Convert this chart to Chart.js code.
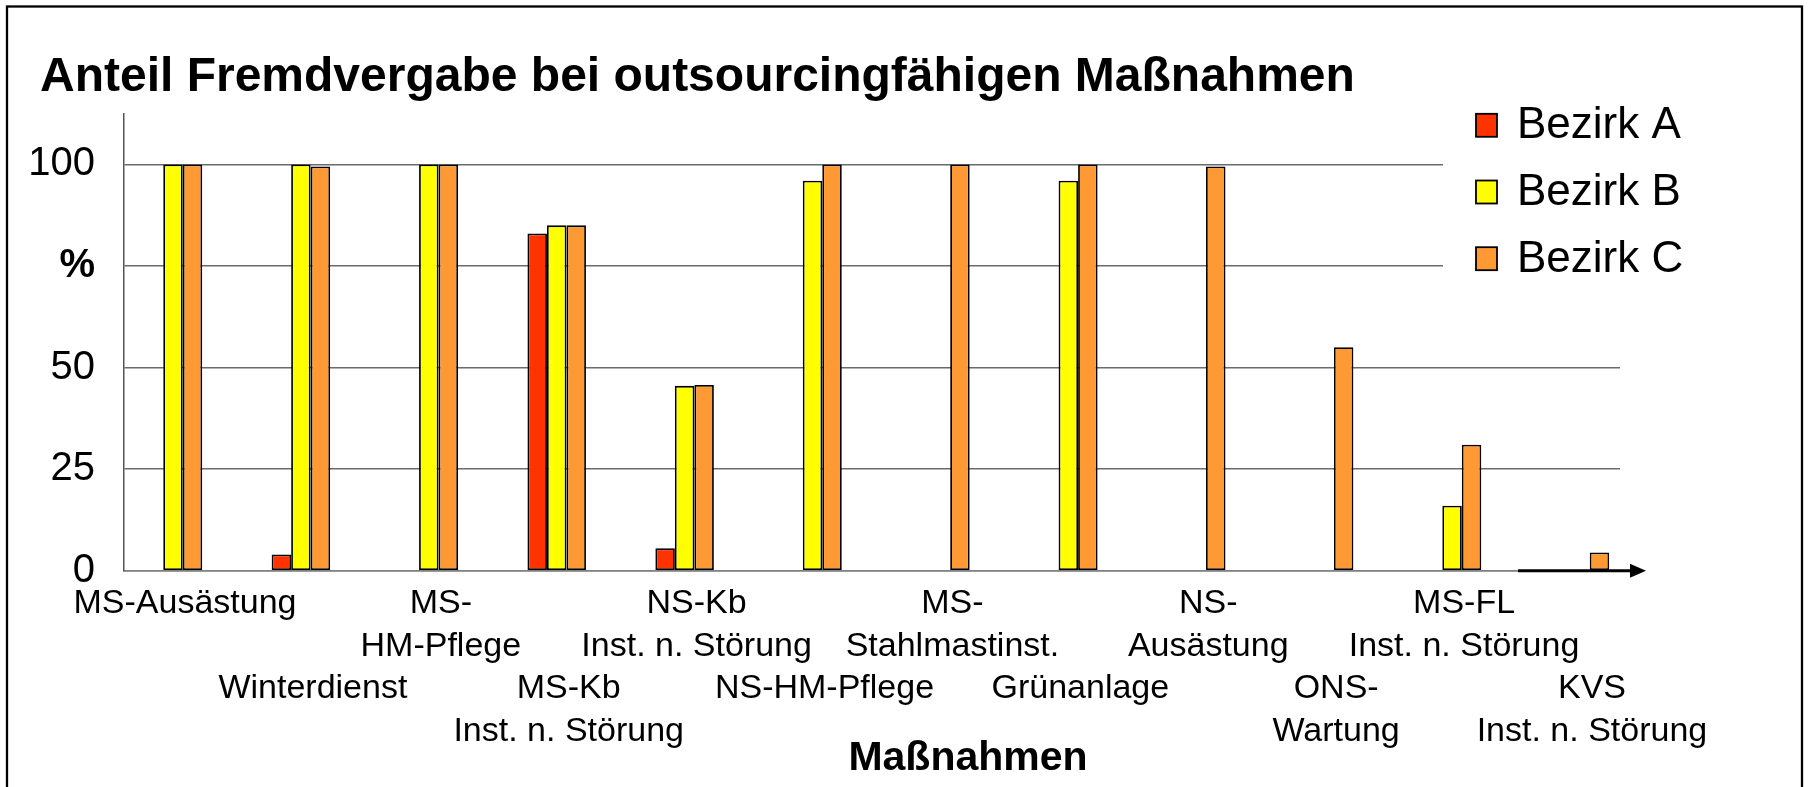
<!DOCTYPE html>
<html>
<head>
<meta charset="utf-8">
<title>Anteil Fremdvergabe</title>
<script src="https://cdn.jsdelivr.net/npm/chart.js@4.4.1/dist/chart.umd.min.js"></script>
<style>
    html, body { margin: 0; padding: 0; background: #fff; }
</style>
</head>
<body>
<canvas id="fremdvergabeChart" width="1808" height="787"></canvas>
<script>
// Data
const categories = [
    ['MS-Ausästung', ''],
    ['Winterdienst', ''],
    ['MS-', 'HM-Pflege'],
    ['MS-Kb', 'Inst. n. Störung'],
    ['NS-Kb', 'Inst. n. Störung'],
    ['NS-HM-Pflege', ''],
    ['MS-', 'Stahlmastinst.'],
    ['Grünanlage', ''],
    ['NS-', 'Ausästung'],
    ['ONS-', 'Wartung'],
    ['MS-FL', 'Inst. n. Störung'],
    ['KVS', 'Inst. n. Störung']
];
const seriesNames = ['Bezirk A', 'Bezirk B', 'Bezirk C'];
const bezirkA = [null, 4, null, 83, 5.5, null, null, null, null, null, null, null];
const bezirkB = [100, 100, 100, 85, 45.5, 96, null, 96, null, null, 16, null];
const bezirkC = [100, 99.5, 100, 85, 45.7, 100, 100, 100, 99.5, 55, 31, 4.5];
const yTicks = [0, 25, 50, 75, 100];
const yTickLabels = ['0', '25', '50', '%', '100'];

const FONT = "'Liberation Sans', Arial, sans-serif";
Chart.defaults.font.family = FONT;
Chart.defaults.color = '#000';

const colors = ['#FF3300', '#FFFF00', '#FF9933'];

function toPoints(arr) {
    return arr.map((v, i) => ({ x: i, y: v }));
}

// frame, arrow, legend and axis title
const decor = {
    id: 'decor',
    afterLayout(chart) {
        // let the y tick labels use the space left of the title indent
        chart.scales.y.left = 0;
    },
    beforeDraw(chart) {
        const ctx = chart.ctx;
        ctx.save();
        ctx.fillStyle = '#fff';
        ctx.fillRect(0, 0, chart.width, chart.height);
        ctx.strokeStyle = '#000';
        ctx.lineWidth = 2.3;
        ctx.strokeRect(7, 6.5, 1795, 900);
        ctx.restore();
    },
    afterDatasetsDraw(chart) {
        const ctx = chart.ctx;
        const area = chart.chartArea;
        const y0 = chart.scales.y.getPixelForValue(0);
        ctx.save();

        // arrow on the x axis
        ctx.strokeStyle = '#000';
        ctx.lineWidth = 3;
        ctx.beginPath();
        ctx.moveTo(area.right - 102, y0);
        ctx.lineTo(area.right + 14, y0);
        ctx.stroke();
        ctx.fillStyle = '#000';
        ctx.beginPath();
        ctx.moveTo(area.right + 26, y0);
        ctx.lineTo(area.right + 10, y0 - 7);
        ctx.lineTo(area.right + 10, y0 + 7);
        ctx.closePath();
        ctx.fill();

        // legend
        ctx.fillStyle = '#fff';
        ctx.fillRect(1443, 98, 357, 200);
        ctx.font = '44px ' + FONT;
        ctx.textBaseline = 'middle';
        ctx.textAlign = 'left';
        chart.data.datasets.forEach((ds, i) => {
            const cy = 125.3 + i * 66.7;
            ctx.fillStyle = ds.backgroundColor;
            ctx.fillRect(1476, cy - 11.5, 21, 23);
            ctx.strokeStyle = '#000';
            ctx.lineWidth = 1.8;
            ctx.strokeRect(1476, cy - 11.5, 21, 23);
            ctx.fillStyle = '#000';
            ctx.fillText(ds.label, 1517, cy + 1);
        });

        // x axis title
        ctx.font = 'bold 41px ' + FONT;
        ctx.textAlign = 'center';
        ctx.fillText('Maßnahmen', (area.left + area.right) / 2 + 96, 759);
        ctx.restore();
    }
};

new Chart(document.getElementById('fremdvergabeChart'), {
    type: 'bar',
    data: {
        datasets: [bezirkA, bezirkB, bezirkC].map((d, i) => ({
            label: seriesNames[i],
            data: toPoints(d),
            backgroundColor: colors[i],
            borderColor: '#000',
            borderWidth: 1.8,
            borderSkipped: false,
            categoryPercentage: 0.4574,
            barPercentage: 1.0
        }))
    },
    options: {
        responsive: false,
        animation: false,
        layout: { padding: { left: 40, right: 188, top: 10, bottom: 22.3 } },
        plugins: {
            legend: { display: false },
            tooltip: { enabled: false },
            title: {
                display: true,
                text: 'Anteil Fremdvergabe bei outsourcingfähigen Maßnahmen',
                align: 'start',
                color: '#000',
                font: { size: 48, weight: 'bold', lineHeight: 1.2 },
                padding: { top: 38.5, bottom: 7.9 }
            }
        },
        scales: {
            x: {
                type: 'linear',
                offset: false,
                min: -0.383,
                max: 11.313,
                afterBuildTicks: (scale) => {
                    scale.ticks = categories.map((c, i) => ({ value: i }));
                },
                grid: { display: true, drawOnChartArea: false, drawTicks: false },
                border: { color: '#808080', width: 1.5 },
                ticks: {
                    autoSkip: false,
                    maxRotation: 0,
                    minRotation: 0,
                    padding: 12,
                    labelOffset: 12,
                    font: { size: 34, lineHeight: 1.25 },
                    callback: (value, index) => index % 2 === 0 ? categories[index] : ['', ''].concat(categories[index])
                }
            },
            y: {
                min: 0,
                max: 112.4,
                afterBuildTicks: (scale) => {
                    scale.ticks = yTicks.map(v => ({ value: v }));
                },
                afterFit: (scale) => { scale.width = 84; },
                grid: { color: '#6b6b6b', lineWidth: 1.5, drawTicks: false },
                border: { color: '#555', width: 1.5 },
                ticks: {
                    padding: 29,
                    font: (ctx) => ({
                        size: 40,
                        weight: ctx.tick && ctx.tick.value === 75 ? 'bold' : 'normal'
                    }),
                    callback: (value, index) => yTickLabels[index]
                }
            }
        }
    },
    plugins: [decor]
});
</script>
</body>
</html>
